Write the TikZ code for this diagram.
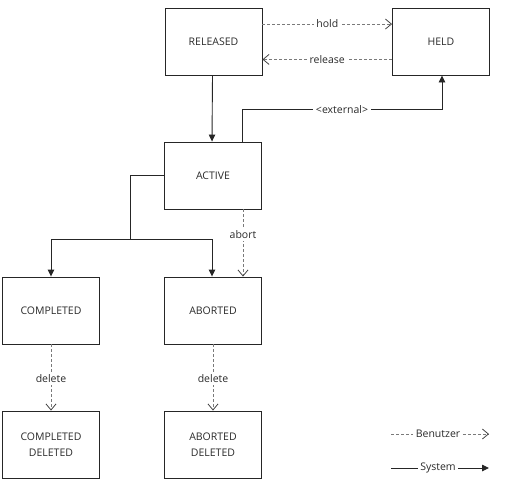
\documentclass[tikz,border=0pt]{standalone}
\usepackage{fontspec}
\setmainfont{Open Sans}
\usetikzlibrary{arrows.meta}
\definecolor{txt}{HTML}{2A2A2A}
\definecolor{dash}{HTML}{7A7A7A}
\definecolor{tip}{HTML}{444444}
\tikzset{
  state/.style={draw=black!85, line width=0.9pt, minimum width=97pt, minimum height=67pt, inner sep=0pt, align=center, text=txt, font=\fontsize{10.5}{16}\selectfont},
  sys/.style={draw=black!85, line width=0.9pt, -{Triangle[length=7pt,width=6.5pt]}},
  usr/.style={draw=dash, line width=0.8pt, dash pattern=on 3pt off 2pt, -{Straight Barb[length=6pt,width=10pt,line width=0.8pt,color=tip]}},
  lbl/.style={fill=white, inner sep=2.5pt, text=txt, font=\fontsize{10.5}{12}\selectfont},
}
\begin{document}
\begin{tikzpicture}[x=1pt,y=-1pt]
\useasboundingbox (0,0) rectangle (520,485);
\node[state] (rel) at (213.5,41.5) {RELEASED};
\node[state] (held) at (441,41.5) {HELD};
\node[state] (act) at (213,175.5) {ACTIVE};
\node[state] (comp) at (51,310.5) {COMPLETED};
\node[state] (abo) at (213,310.5) {ABORTED};
\node[state] (cdel) at (51,444.5) {COMPLETED\\DELETED};
\node[state] (adel) at (213,444.5) {ABORTED\\DELETED};
% user transitions
\draw[usr] ([yshift=-16.5pt]rel.north east) -- node[lbl]{hold} ([yshift=-16.5pt]held.north west);
\draw[usr] ([yshift=16pt]held.south west) -- node[lbl]{release} ([yshift=16pt]rel.south east);
\draw[usr] ([xshift=30pt]act.south) -- node[lbl, pos=0.38]{abort} ([xshift=30pt]abo.north);
\draw[usr] (comp.south) -- node[lbl, pos=0.52]{delete} (cdel.north);
\draw[usr] (abo.south) -- node[lbl, pos=0.52]{delete} (adel.north);
% system transitions
\draw[sys] ([xshift=-1pt]rel.south) -- ([xshift=-1pt]act.north);
\draw[sys] ([xshift=29pt]act.north) -- ++(0,-32) -| node[lbl, pos=0.25]{<external>} ([xshift=1pt]held.south);
\coordinate (br) at (130,239);
\draw[sys] (act.west) -| (br) -| (comp.north);
\draw[sys] (br) -| ([xshift=-1pt]abo.north);
% legend
\node[lbl] (lu) at (438,434) {Benutzer};
\coordinate (lu1) at (391,434);
\coordinate (lu2) at (489,434);
\draw[usr, -] (lu1) -- (lu.west);
\draw[usr] (lu.east) -- (lu2);
\node[lbl] (ls) at (438,468) {System};
\coordinate (ls1) at (391,468);
\coordinate (ls2) at (489,468);
\draw[sys, -] (ls1) -- (ls.west);
\draw[sys] (ls.east) -- (ls2);
\end{tikzpicture}
\end{document}
